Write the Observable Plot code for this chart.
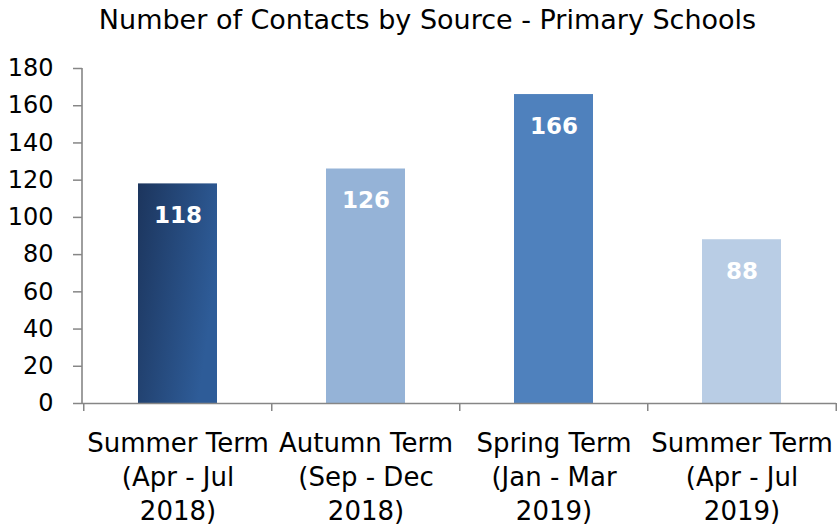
<!DOCTYPE html>
<html><head><meta charset="utf-8">
<script src="https://cdn.jsdelivr.net/npm/d3@7"></script>
<script src="https://cdn.jsdelivr.net/npm/@observablehq/plot@0.6"></script>
<style>
body{margin:0;background:#fff;font-family:"DejaVu Sans",sans-serif;}
#title{height:40px;line-height:40px;text-align:center;font-size:27px;color:#000;padding-left:16px;box-sizing:border-box;width:839px;white-space:nowrap;}
#chart svg{display:block;}
</style></head><body>
<div id="title">Number of Contacts by Source - Primary Schools</div>
<div id="chart"></div>
<script>
const categories = [
  "Summer Term\n(Apr - Jul\n2018)",
  "Autumn Term\n(Sep - Dec\n2018)",
  "Spring Term\n(Jan - Mar\n2019)",
  "Summer Term\n(Apr - Jul\n2019)"
];
const values = [118, 126, 166, 88];
const yTicks = [0, 20, 40, 60, 80, 100, 120, 140, 160, 180];
const barColors = ["url(#bar1grad)", "#95b3d7", "#4f81bd", "#b9cde5"];

const data = categories.map((c, i) => ({cat: c, value: values[i]}));

const W = 839, H = 486, mT = 28, mB = 123, mL = 82, mR = 3;
const plotW = W - mL - mR, plotH = H - mT - mB;
const step = plotW / categories.length;
const axisGrey = "#868686";

const defs = () => {
  const s = d3.create("svg:defs");
  const g = s.append("linearGradient").attr("id", "bar1grad")
    .attr("x1", "0").attr("y1", "0").attr("x2", "1").attr("y2", "0.4");
  g.append("stop").attr("offset", "0%").attr("stop-color", "#1c355d");
  g.append("stop").attr("offset", "100%").attr("stop-color", "#2e5c98");
  return s.node();
};

const yLine = (index, scales, values, dim) => {
  const l = d3.create("svg:line")
    .attr("x1", dim.marginLeft).attr("x2", dim.marginLeft)
    .attr("y1", dim.marginTop).attr("y2", dim.height - dim.marginBottom)
    .attr("stroke", axisGrey).attr("stroke-width", 1.6);
  return l.node();
};

const chart = Plot.plot({
  width: W, height: H,
  marginTop: mT, marginBottom: mB, marginLeft: mL, marginRight: mR,
  style: {fontFamily: "DejaVu Sans, sans-serif", background: "#fff", color: "#000"},
  x: {domain: categories, paddingInner: 0.58, paddingOuter: 0.29, axis: null},
  y: {domain: [0, 180], axis: null},
  color: {domain: categories, range: barColors},
  marks: [
    defs,
    Plot.barY(data, {x: "cat", y: "value", fill: "cat"}),
    Plot.text(data, {x: "cat", y: "value", text: d => String(d.value), dy: 32,
      fill: "white", fontWeight: "bold", fontSize: 23}),
    Plot.axisY({ticks: yTicks, tickSize: 9, tickPadding: 20, fontSize: 24, label: null,
      stroke: axisGrey, strokeWidth: 1.5, fill: "#000", anchor: "left"}),
    yLine,
    Plot.ruleY([0], {stroke: axisGrey, strokeWidth: 1.6}),
    Plot.ruleX(categories, {x: d => d, dx: -step / 2, insetTop: plotH, insetBottom: -8,
      stroke: axisGrey, strokeWidth: 1.5}),
    Plot.ruleX(categories.slice(-1), {x: d => d, dx: step / 2, insetTop: plotH, insetBottom: -8,
      stroke: axisGrey, strokeWidth: 1.5}),
    Plot.text(data, {x: "cat", text: "cat", frameAnchor: "bottom", lineAnchor: "top",
      dy: 24, lineHeight: 1.31, fontSize: 26, fill: "#000"})
  ]
});
document.getElementById("chart").appendChild(chart);
</script>
</body></html>
